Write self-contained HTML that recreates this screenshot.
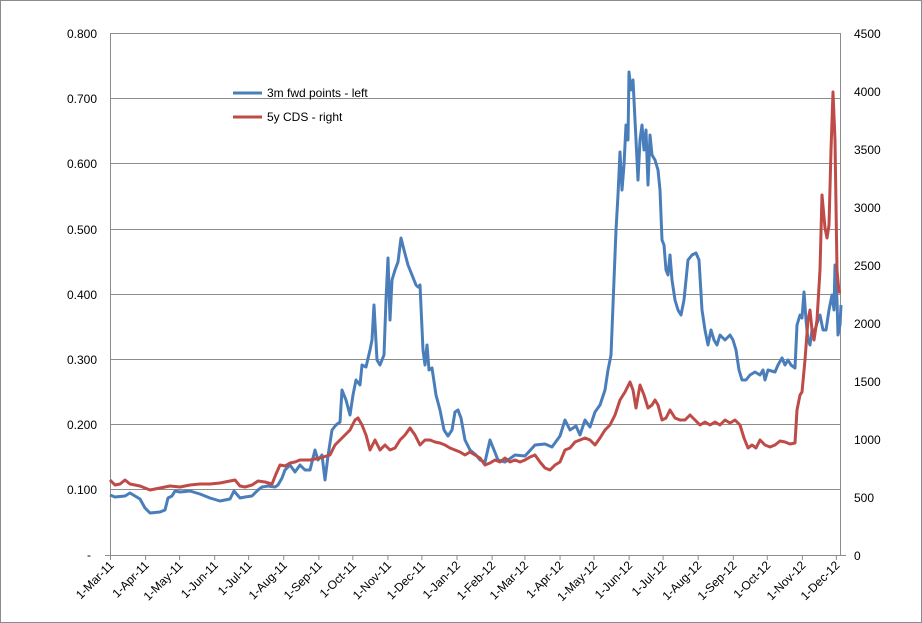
<!DOCTYPE html><html><head><style>body{margin:0;background:#fff}svg{display:block;font-family:"Liberation Sans",sans-serif}</style></head><body>
<svg width="922" height="623" viewBox="0 0 922 623">
<rect x="0.5" y="0.5" width="921" height="622" fill="#fff" stroke="#8c8c8c"/>
<g stroke="#8c8c8c" stroke-width="1">
<line x1="110" y1="33.5" x2="841" y2="33.5"/><line x1="110" y1="98.5" x2="841" y2="98.5"/><line x1="110" y1="163.5" x2="841" y2="163.5"/><line x1="110" y1="229.5" x2="841" y2="229.5"/><line x1="110" y1="294.5" x2="841" y2="294.5"/><line x1="110" y1="359.5" x2="841" y2="359.5"/><line x1="110" y1="424.5" x2="841" y2="424.5"/><line x1="110" y1="489.5" x2="841" y2="489.5"/>
<line x1="110.5" y1="33" x2="110.5" y2="555"/><line x1="840.5" y1="33" x2="840.5" y2="555"/><line x1="105" y1="555.5" x2="846" y2="555.5"/>
</g>
<g stroke="#8c8c8c" id="tk"></g>
<g font-size="12" fill="#000" text-anchor="end">
<text x="97" y="38">0.800</text><text x="97" y="103">0.700</text><text x="97" y="168">0.600</text><text x="97" y="234">0.500</text><text x="97" y="299">0.400</text><text x="97" y="364">0.300</text><text x="97" y="429">0.200</text><text x="97" y="494">0.100</text><text x="91" y="559">-</text>
</g>
<g font-size="12" fill="#000">
<text x="854" y="38">4500</text><text x="854" y="96">4000</text><text x="854" y="154">3500</text><text x="854" y="212">3000</text><text x="854" y="270">2500</text><text x="854" y="328">2000</text><text x="854" y="386">1500</text><text x="854" y="444">1000</text><text x="854" y="502">500</text><text x="854" y="560">0</text>
</g>
<g id="xl" font-size="12" fill="#000" text-anchor="end"></g>
<polyline fill="none" stroke="#4a7ebb" stroke-width="3" stroke-linejoin="round" points="110,495 115,497 125,496 130,493 140,499 145,508 150,513 160,512 165,510 168,498 172,496 175,491 180,492 190,491 200,494 210,498 220,501 225,500 230,499 234,491 240,498 245,497 252,496 258,490 262,487 268,486 275,487 278,485 282,478 285,470 290,465 295,472 300,465 305,470 310,470 315,450 318,460 322,455 325,480 328,456 332,430 336,425 340,422 342,390 346,400 350,415 353,395 356,380 360,385 362,365 366,367 370,350 372,340 374,305 377,360 380,365 384,355 386,300 388,258 390,320 392,280 395,270 398,262 401,238 404,250 408,265 412,275 416,285 418,287 420,285 423,350 425,365 427,345 429,370 432,368 436,395 440,410 444,430 448,436 452,430 455,412 458,410 461,418 465,440 470,450 476,455 480,460 485,462 490,440 494,450 498,460 505,462 515,455 525,456 535,445 545,444 552,447 560,436 565,420 570,430 576,426 580,435 585,420 590,427 595,412 600,405 605,390 608,370 611,355 614,280 616,230 618,195 620,152 622,190 624,165 626,125 628,140 629,72 631,90 633,80 636,140 638,180 640,140 642,125 644,150 646,130 648,185 650,135 652,155 655,160 658,170 660,190 662,240 664,245 666,270 668,275 670,255 672,280 675,300 678,310 681,315 684,300 688,260 692,255 696,253 699,260 702,310 705,330 708,345 711,330 714,340 717,345 720,335 725,340 730,335 733,340 736,350 739,370 742,380 746,380 750,375 755,372 760,375 763,370 765,380 768,370 775,372 778,365 782,358 785,365 788,360 791,365 795,368 797,325 800,315 802,318 804,292 806,320 808,340 810,345 812,330 815,330 818,320 820,315 823,330 826,330 829,310 832,295 834,310 835,265 837,300 838,335 840,325 841,305"/>
<polyline fill="none" stroke="#be4b48" stroke-width="3" stroke-linejoin="round" points="110,480 115,485 120,484 125,480 130,484 140,486 150,490 160,488 170,486 180,487 190,485 200,484 210,484 220,483 230,481 235,480 240,486 245,487 252,485 258,481 265,482 272,484 276,474 280,465 285,466 290,463 295,462 300,460 310,460 320,458 330,455 335,445 340,440 345,435 350,430 355,420 358,418 362,425 366,435 370,450 375,440 380,450 385,445 390,450 395,448 400,440 405,435 410,428 415,435 420,445 425,440 430,440 435,442 440,443 445,445 450,448 455,450 460,452 465,455 470,452 475,455 480,458 485,465 490,463 495,460 500,462 505,458 510,462 515,460 520,462 525,460 530,457 535,455 540,462 545,468 550,470 555,465 560,462 565,450 570,448 575,442 580,440 585,438 590,440 595,445 600,438 605,430 610,425 615,415 620,400 625,392 630,382 633,390 636,408 640,385 644,395 648,408 652,405 655,400 658,405 662,420 666,418 670,410 675,418 680,420 685,420 690,415 695,420 700,425 705,422 710,425 715,422 720,425 725,420 730,423 735,420 740,425 744,438 748,448 752,445 756,448 760,440 765,445 770,447 775,445 780,441 785,442 790,444 795,443 797,410 800,395 802,392 805,360 808,320 810,310 812,330 814,340 817,320 820,270 822,195 825,228 827,238 829,225 831,150 833,92 835,140 837,270 839,292 841,292"/>
<line x1="233" y1="93" x2="262" y2="93" stroke="#4a7ebb" stroke-width="3"/>
<line x1="233" y1="117" x2="262" y2="117" stroke="#be4b48" stroke-width="3"/>
<text x="267" y="97" font-size="12">3m fwd points - left</text>
<text x="267" y="121" font-size="12">5y CDS - right</text>
</svg>
<script>
var L=["1-Mar-11","1-Apr-11","1-May-11","1-Jun-11","1-Jul-11","1-Aug-11","1-Sep-11","1-Oct-11","1-Nov-11","1-Dec-11","1-Jan-12","1-Feb-12","1-Mar-12","1-Apr-12","1-May-12","1-Jun-12","1-Jul-12","1-Aug-12","1-Sep-12","1-Oct-12","1-Nov-12","1-Dec-12"];
var d=[0,31,61,92,122,153,184,214,245,275,306,337,366,397,427,458,488,519,550,580,611,641];
var ns="http://www.w3.org/2000/svg",tk=document.getElementById("tk"),xl=document.getElementById("xl");
d.forEach(function(v,i){var x=110.5+v*729.5/641*0.995;var l=document.createElementNS(ns,"line");l.setAttribute("x1",x);l.setAttribute("x2",x);l.setAttribute("y1",555);l.setAttribute("y2",560);tk.appendChild(l);
var t=document.createElementNS(ns,"text");t.setAttribute("transform","translate("+(x+4)+",566) rotate(-45)");t.textContent=L[i];xl.appendChild(t);});
</script>
</body></html>
